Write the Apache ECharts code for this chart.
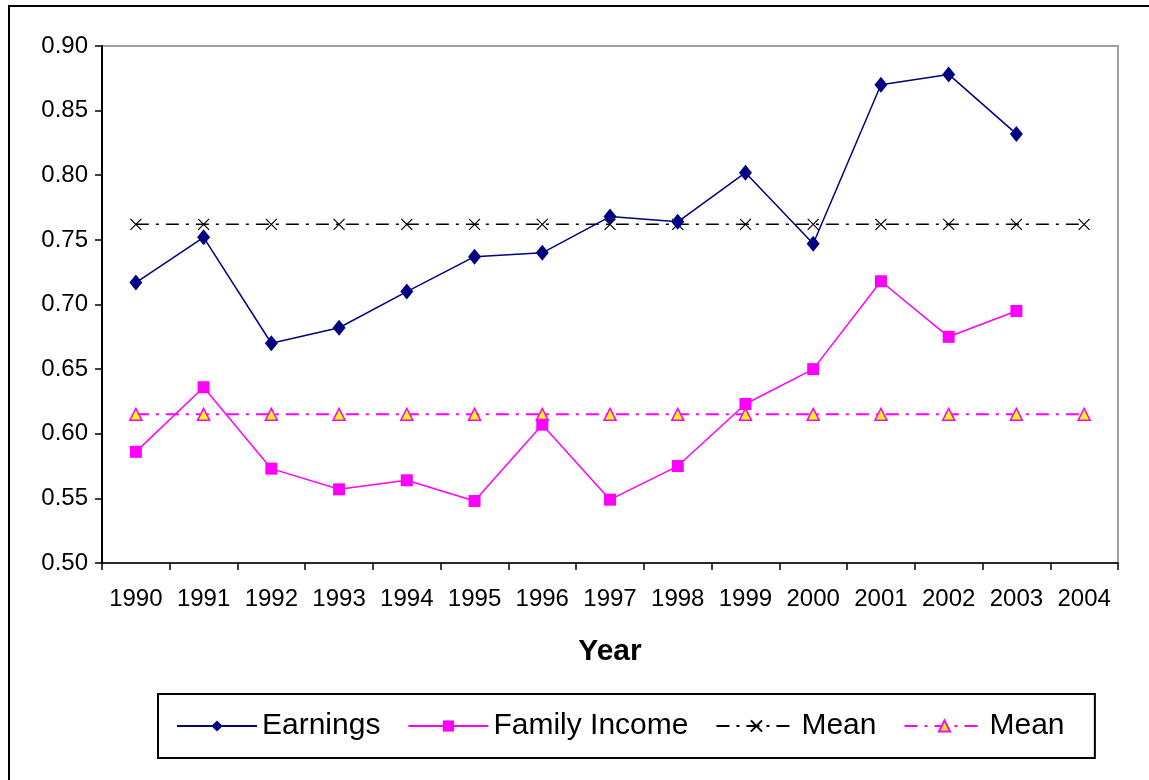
<!DOCTYPE html>
<html>
<head>
<meta charset="utf-8">
<script src="https://cdn.jsdelivr.net/npm/echarts@6/dist/echarts.min.js"></script>
<style>
  html, body { margin: 0; padding: 0; background: #fff; }
  #chart { width: 1149px; height: 780px; }
</style>
</head>
<body>
<div id="chart"></div>
<script>
// 数据
const years = ["1990", "1991", "1992", "1993", "1994", "1995", "1996", "1997",
  "1998", "1999", "2000", "2001", "2002", "2003", "2004"];
const earnings = [0.717, 0.752, 0.670, 0.682, 0.710, 0.737, 0.740, 0.768,
  0.764, 0.802, 0.747, 0.870, 0.878, 0.832];
const familyIncome = [0.586, 0.636, 0.573, 0.557, 0.564, 0.548, 0.607, 0.549,
  0.575, 0.623, 0.650, 0.718, 0.675, 0.695];
const earningsMean = [0.762, 0.762, 0.762, 0.762, 0.762, 0.762, 0.762, 0.762,
  0.762, 0.762, 0.762, 0.762, 0.762, 0.762, 0.762];
const incomeMean = [0.615, 0.615, 0.615, 0.615, 0.615, 0.615, 0.615, 0.615,
  0.615, 0.615, 0.615, 0.615, 0.615, 0.615, 0.615];
const yMin = 0.5;
const yMax = 0.9;
const yStep = 0.05;

const font = "Liberation Sans, Arial, sans-serif";

const chart = echarts.init(document.getElementById("chart"));

const options = {
  animation: false,
  graphic: [
    {
      // 外框
      type: "rect",
      shape: { x: 9, y: 6, width: 1200, height: 800 },
      style: { fill: "none", stroke: "#000", lineWidth: 2 },
      silent: true,
    },
  ],
  grid: {
    left: 102,
    top: 46,
    right: 31,
    bottom: 217,
    show: true,
    borderColor: "#a0a0a0",
    borderWidth: 2,
  },
  legend: {
    left: 158,
    top: 694,
    orient: "horizontal",
    borderColor: "#000",
    borderWidth: 2,
    padding: [17, 22, 17, 18],
    itemWidth: 80,
    itemHeight: 14,
    itemGap: 27,
    textStyle: { fontFamily: font, fontSize: 30, color: "#000" },
    data: ["Earnings", "Family Income", "Mean", "Mean "],
  },
  xAxis: {
    type: "category",
    data: years,
    boundaryGap: true,
    name: "Year",
    nameLocation: "middle",
    nameGap: 74,
    nameTextStyle: { fontFamily: font, fontSize: 30, fontWeight: "bold", color: "#000" },
    axisLine: { lineStyle: { color: "#000", width: 1.5 } },
    axisTick: { show: true, interval: 0, length: 7, lineStyle: { color: "#000", width: 1.5 } },
    axisLabel: { interval: 0, margin: 24, fontFamily: font, fontSize: 24, color: "#000" },
    splitLine: { show: false },
  },
  yAxis: {
    type: "value",
    min: yMin,
    max: yMax,
    interval: yStep,
    axisLine: { show: true, lineStyle: { color: "#000", width: 2 } },
    axisTick: { show: true, length: 7, lineStyle: { color: "#000", width: 1.5 } },
    axisLabel: {
      margin: 14,
      fontFamily: font,
      fontSize: 24,
      color: "#000",
      formatter: (v) => v.toFixed(2),
    },
    splitLine: { show: false },
  },
  series: [
    {
      name: "Earnings",
      type: "line",
      data: earnings,
      symbol: "diamond",
      symbolSize: [13, 16],
      lineStyle: { color: "#000080", width: 1.5 },
      itemStyle: { color: "#000080" },
      z: 4,
    },
    {
      name: "Family Income",
      type: "line",
      data: familyIncome,
      symbol: "rect",
      symbolSize: 12,
      lineStyle: { color: "#ff00ff", width: 1.5 },
      itemStyle: { color: "#ff00ff" },
      z: 4,
    },
    {
      name: "Mean",
      type: "line",
      data: earningsMean,
      symbol: "path://M0 0L10 10M10 0L0 10",
      symbolSize: 11,
      lineStyle: { color: "#000", width: 1.5, type: [13, 7, 3, 7] },
      itemStyle: { color: "none", borderColor: "#000", borderWidth: 1.2 },
      z: 3,
    },
    {
      name: "Mean ",
      type: "line",
      data: incomeMean,
      symbol: "triangle",
      symbolSize: 12,
      lineStyle: { color: "#ff00ff", width: 2, type: [13, 7, 3, 7] },
      itemStyle: { color: "#ffff00", borderColor: "#ff00ff", borderWidth: 1.5 },
      z: 3,
    },
  ],
};

chart.setOption(options);
</script>
</body>
</html>
